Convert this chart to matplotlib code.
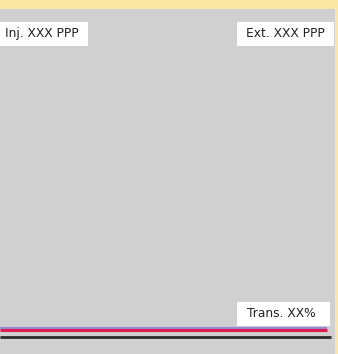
import matplotlib.pyplot as plt

# Trace values along the run (percent of axis height)
x_pos = [0, 97.6]
x_ref = [0, 98.8]
inj_trace = [7.6, 7.6]
ext_trace = [7.0, 7.0]
trans_trace = [5.0, 5.0]

# Label texts
labels = ["Inj. XXX PPP", "Ext. XXX PPP", "Trans. XX%"]

fig = plt.figure(figsize=(3.38, 3.54), dpi=100)
fig.patch.set_facecolor("#fbe8a4")

ax = fig.add_axes([0, 0, 335 / 338, 345 / 354])
ax.set_xlim(0, 100)
ax.set_ylim(0, 100)
ax.axis("off")
ax.add_patch(plt.Rectangle((0, 0), 1, 1, transform=ax.transAxes,
                           color="#d0d0d0", zorder=0))

ax.plot(x_pos, inj_trace, color="#9b86d6", lw=1.6, solid_capstyle="butt")
ax.plot(x_pos, ext_trace, color="#dc1f4c", lw=2.2, solid_capstyle="butt")
ax.plot(x_ref, trans_trace, color="#2a2a2a", lw=2.0, solid_capstyle="butt")

# white label boxes: (x, y, w, h) in axes fraction, then text anchor
boxes = [(0.0, 0.893, 0.263, 0.0696), (0.707, 0.893, 0.290, 0.0696),
         (0.707, 0.081, 0.278, 0.0696)]
anchors = [(0.015, 0.928), (0.734, 0.928), (0.737, 0.116)]

for (bx, by, bw, bh), (tx, ty), lab in zip(boxes, anchors, labels):
    ax.add_patch(plt.Rectangle((bx, by), bw, bh, transform=ax.transAxes,
                               fc="white", ec="none", zorder=3))
    ax.text(tx, ty, lab, transform=ax.transAxes, fontsize=8.8,
            ha="left", va="center", color="#222222", zorder=4)

fig.savefig("out.png", dpi=100, facecolor=fig.get_facecolor())
